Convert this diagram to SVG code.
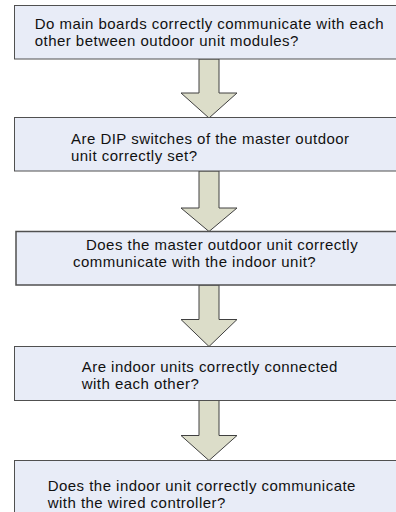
<svg xmlns="http://www.w3.org/2000/svg" width="396" height="512" viewBox="0 0 396 512">
<style>
.box{fill:#E8ECF7;stroke:#505050;stroke-width:1}
.arrow{fill:#DCDDC9;stroke:#404040;stroke-width:1}
text{font-family:"Liberation Sans",Arial,sans-serif;font-size:15px;letter-spacing:0.47px;fill:#111}
</style>
<rect width="396" height="512" fill="#fff"/>
<g id="connectors">
<path class="arrow" d="M199,59 L219,59 L219,93 L237,93 L209,118 L181,93 L199,93 Z"/>
<path class="arrow" d="M199,171 L219,171 L219,208 L237,208 L209,231.5 L181,208 L199,208 Z"/>
<path class="arrow" d="M199,285 L219,285 L219,319.5 L237,319.5 L209,346.5 L181,319.5 L199,319.5 Z"/>
<path class="arrow" d="M199,400.5 L219,400.5 L219,435.5 L237,435.5 L209,460.5 L181,435.5 L199,435.5 Z"/>
</g>
<g id="node1">
<rect class="box" x="14.5" y="5.5" width="390" height="53.5"/>
<text x="34.7" y="28.5">Do main boards correctly communicate with each</text>
<text x="34.7" y="45.5">other between outdoor unit modules?</text>
</g>
<g id="node2">
<rect class="box" x="14.5" y="117.5" width="390" height="53.5"/>
<text x="71" y="144">Are DIP switches of the master outdoor</text>
<text x="71" y="161">unit correctly set?</text>
</g>
<g id="node3">
<rect class="box" x="16" y="231.5" width="390" height="53.5" style="stroke-width:1.5"/>
<text x="86" y="250">Does the master outdoor unit correctly</text>
<text x="73" y="267">communicate with the indoor unit?</text>
</g>
<g id="node4">
<rect class="box" x="14.5" y="346.5" width="390" height="54"/>
<text x="81.7" y="372">Are indoor units correctly connected</text>
<text x="81.7" y="389">with each other?</text>
</g>
<g id="node5">
<rect class="box" x="14.5" y="460.5" width="390" height="60"/>
<text x="47.7" y="491">Does the indoor unit correctly communicate</text>
<text x="47.7" y="508">with the wired controller?</text>
</g>
</svg>
